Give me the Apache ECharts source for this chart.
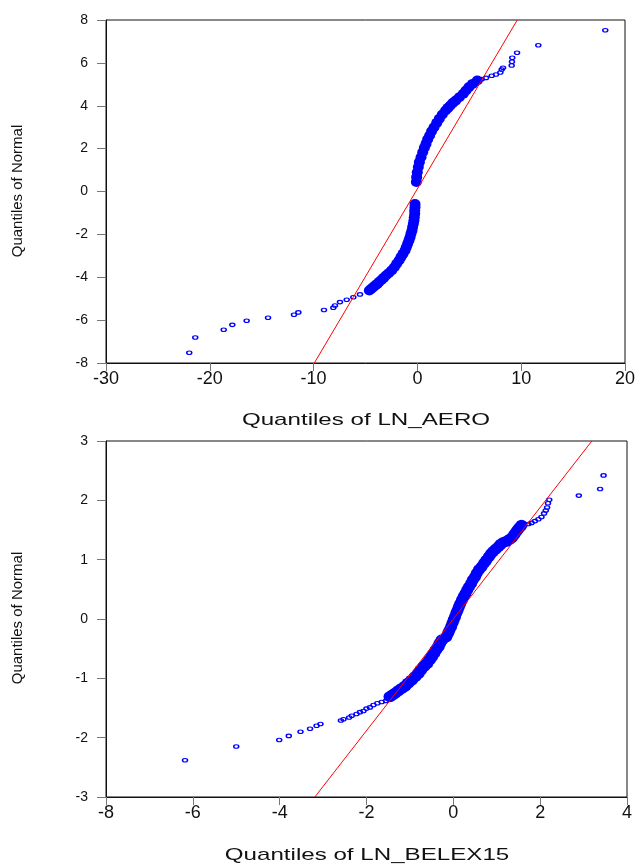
<!DOCTYPE html>
<html><head><meta charset="utf-8">
<script src="https://cdn.jsdelivr.net/npm/echarts@6/dist/echarts.min.js"></script>
<style>html,body{margin:0;padding:0;background:#fff}#c{width:640px;height:867px}</style>
</head><body><div id="c"></div>
<script>
// ---- Top panel: Quantiles of LN_AERO (x) vs Quantiles of Normal (y)
const aeroDenseUpper = [[-0.10,0.44],[-0.07,0.67],[-0.01,0.90],[0.09,1.14],[0.19,1.37],[0.35,1.60],[0.51,1.83],[0.67,2.04],[0.83,2.22],[0.99,2.43],[1.18,2.61],[1.37,2.81],[1.60,3.00],[1.86,3.20],[2.11,3.39],[2.40,3.59],[2.72,3.78],[2.95,3.90],[3.17,4.01],[3.43,4.14],[3.69,4.24],[4.04,4.40],[4.42,4.56],[4.68,4.71],[4.97,4.87],[5.32,5.02],[5.77,5.18]];
const aeroDenseLower = [[-0.23,-0.58],[-0.23,-0.73],[-0.26,-0.89],[-0.26,-1.04],[-0.30,-1.20],[-0.33,-1.35],[-0.39,-1.51],[-0.46,-1.66],[-0.52,-1.82],[-0.62,-1.97],[-0.71,-2.13],[-0.81,-2.28],[-0.94,-2.44],[-1.07,-2.60],[-1.19,-2.75],[-1.39,-2.91],[-1.58,-3.06],[-1.77,-3.22],[-2.00,-3.37],[-2.22,-3.53],[-2.48,-3.68],[-2.77,-3.81],[-3.03,-3.92],[-3.25,-4.03],[-3.44,-4.12],[-3.67,-4.21],[-3.86,-4.31],[-4.05,-4.38],[-4.25,-4.46],[-4.44,-4.54],[-4.63,-4.62]];
const aeroTailUpper = [[6.19,5.24],[6.61,5.30],[7.16,5.40],[7.57,5.46],[7.99,5.55],[8.12,5.69],[8.25,5.77],[9.08,5.88],[9.11,6.05],[9.14,6.24],[9.60,6.47],[11.65,6.82],[18.10,7.52]];
const aeroTailLower = [[-5.53,-4.80],[-6.17,-4.93],[-6.81,-5.05],[-7.46,-5.16],[-7.94,-5.32],[-8.10,-5.42],[-9.00,-5.53],[-11.47,-5.64],[-11.89,-5.75],[-14.39,-5.89],[-16.45,-6.03],[-17.83,-6.22],[-18.66,-6.45],[-21.40,-6.81],[-21.98,-7.52]];
const aeroRefLine = [[-9.93,-8],[9.62,8]];
const aeroXTicks = {min:-30, max:20, interval:10};
const aeroYTicks = {min:-8, max:8, interval:2};

// ---- Bottom panel: Quantiles of LN_BELEX15 (x) vs Quantiles of Normal (y)
const belexDenseUpper = [[1.57,1.58],[1.52,1.54],[1.48,1.50],[1.44,1.46],[1.40,1.42],[1.35,1.37],[1.29,1.34],[1.22,1.31],[1.15,1.29],[1.09,1.26],[1.04,1.22],[0.98,1.18],[0.92,1.14],[0.87,1.10],[0.82,1.05],[0.76,0.99],[0.71,0.94],[0.65,0.88],[0.59,0.83],[0.54,0.77],[0.50,0.71],[0.45,0.66],[0.41,0.60],[0.36,0.54],[0.32,0.49],[0.28,0.43],[0.24,0.38],[0.20,0.32],[0.16,0.26],[0.13,0.21],[0.10,0.15],[0.07,0.10],[0.04,0.04],[0.01,-0.01],[-0.02,-0.07],[-0.05,-0.13],[-0.09,-0.19],[-0.12,-0.24],[-0.16,-0.30]];
const belexDenseLower = [[-0.26,-0.35],[-0.31,-0.41],[-0.35,-0.47],[-0.40,-0.52],[-0.45,-0.58],[-0.50,-0.64],[-0.55,-0.69],[-0.61,-0.75],[-0.68,-0.80],[-0.75,-0.86],[-0.81,-0.92],[-0.88,-0.97],[-0.96,-1.03],[-1.04,-1.08],[-1.11,-1.13],[-1.19,-1.17],[-1.27,-1.21],[-1.34,-1.25],[-1.40,-1.28],[-1.46,-1.31]];
const belexTailUpper = [[1.73,1.60],[1.80,1.62],[1.88,1.65],[1.96,1.68],[2.03,1.72],[2.09,1.78],[2.13,1.83],[2.16,1.88],[2.18,1.95],[2.21,2.01],[2.89,2.08],[3.38,2.19],[3.46,2.42]];
const belexTailLower = [[-1.55,-1.38],[-1.65,-1.40],[-1.75,-1.42],[-1.84,-1.45],[-1.92,-1.49],[-2.00,-1.51],[-2.07,-1.55],[-2.15,-1.57],[-2.23,-1.60],[-2.34,-1.63],[-2.40,-1.66],[-2.53,-1.69],[-2.59,-1.71],[-3.06,-1.77],[-3.15,-1.80],[-3.30,-1.85],[-3.52,-1.90],[-3.79,-1.97],[-4.01,-2.04],[-5.00,-2.15],[-6.18,-2.38]];
const belexRefLine = [[-3.19,-3],[3.19,3]];
const belexXTicks = {min:-8, max:4, interval:2};
const belexYTicks = {min:-3, max:3, interval:1};

const xTitles = ['Quantiles of LN_AERO', 'Quantiles of LN_BELEX15'];
const yTitle = 'Quantiles of Normal';

const FONT = 'Liberation Sans, Arial, sans-serif';
const BLUE = '#0000ff';

function xAxisCfg(g, t) {
  return {gridIndex:g, type:'value', min:t.min, max:t.max, interval:t.interval,
    axisLine:{show:true, onZero:false, lineStyle:{color:'#111', width:1}},
    axisTick:{show:true, length:8, lineStyle:{color:'#777'}},
    splitLine:{show:false},
    axisLabel:{fontSize:18, color:'#111', margin:7, fontFamily:FONT}};
}
function yAxisCfg(g, t) {
  return {gridIndex:g, type:'value', min:t.min, max:t.max, interval:t.interval,
    axisLine:{show:true, onZero:false, lineStyle:{color:'#111', width:1}},
    axisTick:{show:true, length:9, lineStyle:{color:'#777'}},
    splitLine:{show:false},
    axisLabel:{fontSize:14, color:'#111', margin:18, fontFamily:FONT}};
}
function dense(i, d, size) {
  return {type:'scatter', xAxisIndex:i, yAxisIndex:i, data:d, symbol:'circle', symbolSize:size,
    itemStyle:{color:BLUE, opacity:1}, silent:true, z:2};
}
function tail(i, d) {
  return {type:'scatter', xAxisIndex:i, yAxisIndex:i, data:d, symbol:'circle', symbolSize:[5,3.5],
    itemStyle:{color:'rgba(0,0,0,0)', borderColor:BLUE, borderWidth:1.3, opacity:1}, silent:true, z:2};
}
function refLine(i, d) {
  return {type:'line', xAxisIndex:i, yAxisIndex:i, data:d, showSymbol:false, symbol:'none',
    lineStyle:{color:'#ff0000', width:1}, silent:true, z:5};
}

const chart = echarts.init(document.getElementById('c'), null, {renderer:'canvas'});
chart.setOption({
  animation:false,
  backgroundColor:'#ffffff',
  grid:[
    {left:106, top:20, width:519, height:343, show:true, borderColor:'#111', borderWidth:1, backgroundColor:'#fff'},
    {left:106, top:441, width:521, height:356, show:true, borderColor:'#111', borderWidth:1, backgroundColor:'#fff'}
  ],
  xAxis:[xAxisCfg(0, aeroXTicks), xAxisCfg(1, belexXTicks)],
  yAxis:[yAxisCfg(0, aeroYTicks), yAxisCfg(1, belexYTicks)],
  series:[
    dense(0, aeroDenseUpper, [11,10]), dense(0, aeroDenseLower, [11,10]), tail(0, aeroTailUpper), tail(0, aeroTailLower), refLine(0, aeroRefLine),
    dense(1, belexDenseUpper, [12,11]), dense(1, belexDenseLower, [13,11]), tail(1, belexTailUpper), tail(1, belexTailLower), refLine(1, belexRefLine)
  ],
  graphic:[
    {type:'text', x:366, y:420, scaleX:1.42, style:{text:xTitles[0], font:'17px '+FONT, fill:'#111', textAlign:'center', textVerticalAlign:'middle'}},
    {type:'text', x:367, y:855, scaleX:1.42, style:{text:xTitles[1], font:'17px '+FONT, fill:'#111', textAlign:'center', textVerticalAlign:'middle'}},
    {type:'text', x:18, y:191, rotation:Math.PI/2, style:{text:yTitle, font:'15px '+FONT, fill:'#111', textAlign:'center', textVerticalAlign:'middle'}},
    {type:'text', x:18, y:618, rotation:Math.PI/2, style:{text:yTitle, font:'15px '+FONT, fill:'#111', textAlign:'center', textVerticalAlign:'middle'}}
  ]
});
</script></body></html>
